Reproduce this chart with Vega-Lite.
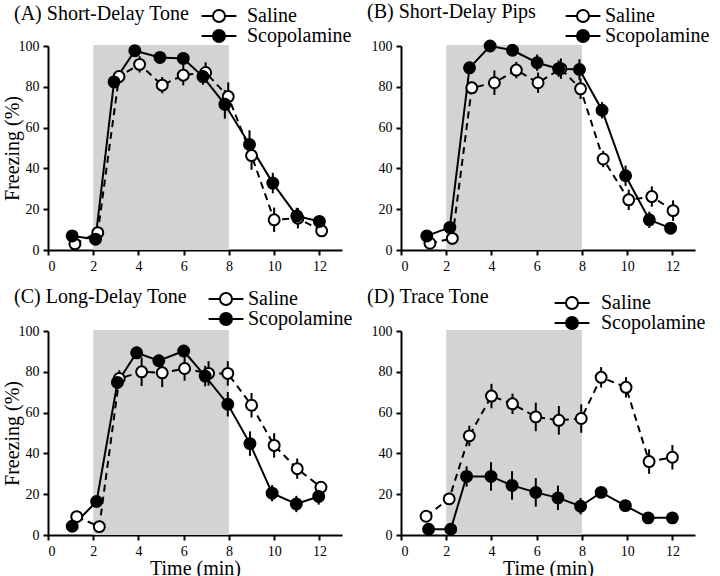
{
  "$schema": "https://vega.github.io/schema/vega-lite/v6.json",
  "padding": {"left": 2, "top": 2, "right": 2, "bottom": 2},
  "background": "white",
  "datasets": {
    "freezing": [
      {"panel":"A","group":"Saline","time":1.19,"freezing":3,"lower":1,"upper":5},
      {"panel":"A","group":"Saline","time":2.2,"freezing":8.5,"lower":5.5,"upper":11.5},
      {"panel":"A","group":"Saline","time":3.14,"freezing":85,"lower":82,"upper":88},
      {"panel":"A","group":"Saline","time":4.05,"freezing":91,"lower":87,"upper":95},
      {"panel":"A","group":"Saline","time":5.05,"freezing":80.8,"lower":76.8,"upper":84.8},
      {"panel":"A","group":"Saline","time":5.98,"freezing":85.7,"lower":80.7,"upper":90.7},
      {"panel":"A","group":"Saline","time":6.97,"freezing":87,"lower":82,"upper":92},
      {"panel":"A","group":"Saline","time":7.97,"freezing":75.2,"lower":68.2,"upper":82.2},
      {"panel":"A","group":"Saline","time":9.0,"freezing":46.3,"lower":39.3,"upper":53.3},
      {"panel":"A","group":"Saline","time":10.0,"freezing":14.8,"lower":8.8,"upper":20.8},
      {"panel":"A","group":"Saline","time":11.05,"freezing":15.6,"lower":10.6,"upper":20.6},
      {"panel":"A","group":"Saline","time":12.1,"freezing":9.4,"lower":6.4,"upper":12.4},
      {"panel":"A","group":"Scopolamine","time":1.07,"freezing":6.9,"lower":5.9,"upper":7.9},
      {"panel":"A","group":"Scopolamine","time":2.1,"freezing":5.3,"lower":3.3,"upper":7.3},
      {"panel":"A","group":"Scopolamine","time":2.92,"freezing":82.4,"lower":79.4,"upper":85.4},
      {"panel":"A","group":"Scopolamine","time":3.84,"freezing":97.7,"lower":95.7,"upper":99.7},
      {"panel":"A","group":"Scopolamine","time":4.95,"freezing":94.4,"lower":92.4,"upper":96.4},
      {"panel":"A","group":"Scopolamine","time":5.98,"freezing":93.9,"lower":90.9,"upper":96.9},
      {"panel":"A","group":"Scopolamine","time":6.85,"freezing":85,"lower":81,"upper":89},
      {"panel":"A","group":"Scopolamine","time":7.82,"freezing":71.4,"lower":64.4,"upper":78.4},
      {"panel":"A","group":"Scopolamine","time":8.91,"freezing":51.7,"lower":44.7,"upper":58.7},
      {"panel":"A","group":"Scopolamine","time":9.94,"freezing":32.8,"lower":27.8,"upper":37.8},
      {"panel":"A","group":"Scopolamine","time":11.0,"freezing":16.7,"lower":12.7,"upper":20.7},
      {"panel":"A","group":"Scopolamine","time":12.0,"freezing":14,"lower":11,"upper":17},

      {"panel":"B","group":"Saline","time":1.28,"freezing":3.3,"lower":1.3,"upper":5.3},
      {"panel":"B","group":"Saline","time":2.27,"freezing":5.7,"lower":2.7,"upper":8.7},
      {"panel":"B","group":"Saline","time":3.13,"freezing":79.5,"lower":76.5,"upper":82.5},
      {"panel":"B","group":"Saline","time":4.13,"freezing":82,"lower":76,"upper":88},
      {"panel":"B","group":"Saline","time":5.1,"freezing":88.2,"lower":84.2,"upper":92.2},
      {"panel":"B","group":"Saline","time":6.06,"freezing":82,"lower":77,"upper":87},
      {"panel":"B","group":"Saline","time":7.07,"freezing":88.9,"lower":83.9,"upper":93.9},
      {"panel":"B","group":"Saline","time":7.94,"freezing":79,"lower":74,"upper":84},
      {"panel":"B","group":"Saline","time":8.94,"freezing":44.6,"lower":40.6,"upper":48.6},
      {"panel":"B","group":"Saline","time":10.07,"freezing":24.6,"lower":19.6,"upper":29.6},
      {"panel":"B","group":"Saline","time":11.09,"freezing":26.2,"lower":21.2,"upper":31.2},
      {"panel":"B","group":"Saline","time":12.03,"freezing":19.3,"lower":14.3,"upper":24.3},
      {"panel":"B","group":"Scopolamine","time":1.14,"freezing":6.9,"lower":4.9,"upper":8.9},
      {"panel":"B","group":"Scopolamine","time":2.16,"freezing":11.1,"lower":9.1,"upper":13.1},
      {"panel":"B","group":"Scopolamine","time":3.03,"freezing":89.3,"lower":86.3,"upper":92.3},
      {"panel":"B","group":"Scopolamine","time":3.94,"freezing":100,"lower":98,"upper":100},
      {"panel":"B","group":"Scopolamine","time":4.93,"freezing":97.9,"lower":95.9,"upper":99.9},
      {"panel":"B","group":"Scopolamine","time":6.02,"freezing":91.8,"lower":87.8,"upper":95.8},
      {"panel":"B","group":"Scopolamine","time":6.97,"freezing":88.9,"lower":84.9,"upper":92.9},
      {"panel":"B","group":"Scopolamine","time":7.89,"freezing":88.5,"lower":83.5,"upper":93.5},
      {"panel":"B","group":"Scopolamine","time":8.89,"freezing":68.5,"lower":64.5,"upper":72.5},
      {"panel":"B","group":"Scopolamine","time":9.93,"freezing":36.4,"lower":31.4,"upper":41.4},
      {"panel":"B","group":"Scopolamine","time":10.98,"freezing":14.8,"lower":10.8,"upper":18.8},
      {"panel":"B","group":"Scopolamine","time":11.92,"freezing":10.7,"lower":7.7,"upper":13.7},

      {"panel":"C","group":"Saline","time":1.27,"freezing":9,"lower":7,"upper":11},
      {"panel":"C","group":"Saline","time":2.27,"freezing":4.1,"lower":2.1,"upper":6.1},
      {"panel":"C","group":"Saline","time":3.15,"freezing":76.7,"lower":72.7,"upper":80.7},
      {"panel":"C","group":"Saline","time":4.14,"freezing":80,"lower":73,"upper":87},
      {"panel":"C","group":"Saline","time":5.05,"freezing":79.5,"lower":72.5,"upper":86.5},
      {"panel":"C","group":"Saline","time":6.04,"freezing":81.6,"lower":75.6,"upper":87.6},
      {"panel":"C","group":"Saline","time":7.1,"freezing":79.2,"lower":73.2,"upper":85.2},
      {"panel":"C","group":"Saline","time":7.95,"freezing":79.2,"lower":73.2,"upper":85.2},
      {"panel":"C","group":"Saline","time":9.0,"freezing":63.6,"lower":57.6,"upper":69.6},
      {"panel":"C","group":"Saline","time":10.0,"freezing":43.9,"lower":37.9,"upper":49.9},
      {"panel":"C","group":"Saline","time":11.02,"freezing":32.5,"lower":27.5,"upper":37.5},
      {"panel":"C","group":"Saline","time":12.07,"freezing":23.4,"lower":20.4,"upper":26.4},
      {"panel":"C","group":"Scopolamine","time":1.07,"freezing":4.3,"lower":3.3,"upper":5.3},
      {"panel":"C","group":"Scopolamine","time":2.15,"freezing":16.4,"lower":14.4,"upper":18.4},
      {"panel":"C","group":"Scopolamine","time":3.07,"freezing":74.8,"lower":71.8,"upper":77.8},
      {"panel":"C","group":"Scopolamine","time":3.92,"freezing":89.3,"lower":86.3,"upper":92.3},
      {"panel":"C","group":"Scopolamine","time":4.9,"freezing":85.4,"lower":82.4,"upper":88.4},
      {"panel":"C","group":"Scopolamine","time":6.0,"freezing":90.2,"lower":87.2,"upper":93.2},
      {"panel":"C","group":"Scopolamine","time":6.95,"freezing":77.9,"lower":72.9,"upper":82.9},
      {"panel":"C","group":"Scopolamine","time":7.95,"freezing":64.1,"lower":58.1,"upper":70.1},
      {"panel":"C","group":"Scopolamine","time":8.93,"freezing":44.8,"lower":38.8,"upper":50.8},
      {"panel":"C","group":"Scopolamine","time":9.91,"freezing":20.5,"lower":16.5,"upper":24.5},
      {"panel":"C","group":"Scopolamine","time":10.98,"freezing":15.2,"lower":11.2,"upper":19.2},
      {"panel":"C","group":"Scopolamine","time":11.97,"freezing":18.9,"lower":14.9,"upper":22.9},

      {"panel":"D","group":"Saline","time":1.11,"freezing":9.2,"lower":7.2,"upper":11.2},
      {"panel":"D","group":"Saline","time":2.13,"freezing":17.7,"lower":14.7,"upper":20.7},
      {"panel":"D","group":"Saline","time":3.02,"freezing":48.6,"lower":43.6,"upper":53.6},
      {"panel":"D","group":"Saline","time":4.0,"freezing":68.1,"lower":62.1,"upper":74.1},
      {"panel":"D","group":"Saline","time":4.93,"freezing":64.3,"lower":59.3,"upper":69.3},
      {"panel":"D","group":"Saline","time":5.96,"freezing":57.9,"lower":50.9,"upper":64.9},
      {"panel":"D","group":"Saline","time":6.98,"freezing":56.2,"lower":49.2,"upper":63.2},
      {"panel":"D","group":"Saline","time":7.97,"freezing":57.1,"lower":50.1,"upper":64.1},
      {"panel":"D","group":"Saline","time":8.85,"freezing":77.3,"lower":72.3,"upper":82.3},
      {"panel":"D","group":"Saline","time":9.95,"freezing":72.4,"lower":67.4,"upper":77.4},
      {"panel":"D","group":"Saline","time":10.97,"freezing":36,"lower":30,"upper":42},
      {"panel":"D","group":"Saline","time":12.0,"freezing":38.1,"lower":32.1,"upper":44.1},
      {"panel":"D","group":"Scopolamine","time":1.22,"freezing":2.8,"lower":1.8,"upper":3.8},
      {"panel":"D","group":"Scopolamine","time":2.2,"freezing":2.8,"lower":1.8,"upper":3.8},
      {"panel":"D","group":"Scopolamine","time":2.9,"freezing":28.7,"lower":23.7,"upper":33.7},
      {"panel":"D","group":"Scopolamine","time":3.98,"freezing":28.7,"lower":21.7,"upper":35.7},
      {"panel":"D","group":"Scopolamine","time":4.91,"freezing":24.3,"lower":17.3,"upper":31.3},
      {"panel":"D","group":"Scopolamine","time":5.96,"freezing":20.9,"lower":13.9,"upper":27.9},
      {"panel":"D","group":"Scopolamine","time":6.94,"freezing":18.2,"lower":12.2,"upper":24.2},
      {"panel":"D","group":"Scopolamine","time":7.94,"freezing":14.1,"lower":10.1,"upper":18.1},
      {"panel":"D","group":"Scopolamine","time":8.85,"freezing":20.9,"lower":18.9,"upper":22.9},
      {"panel":"D","group":"Scopolamine","time":9.92,"freezing":14.4,"lower":12.4,"upper":16.4},
      {"panel":"D","group":"Scopolamine","time":10.93,"freezing":8.4,"lower":7.4,"upper":9.4},
      {"panel":"D","group":"Scopolamine","time":12.0,"freezing":8.4,"lower":7.4,"upper":9.4}
    ],
    "cs": [{"start": 2, "end": 8, "bottom": 0, "top": 100.5}]
  },
  "columns": 2,
  "bounds": "flush",
  "spacing": {"row": 81, "column": 59},
  "resolve": {"scale": {"fill": "independent"}, "legend": {"fill": "independent"}},
  "concat": [
    {
      "width": 294, "height": 204,
      "title": {"text": "(A) Short-Delay Tone", "offset": -18, "font": "Liberation Serif"},
      "layer": [
        {"data": {"name": "cs"}, "mark": {"type": "rect", "color": "#d3d3d3"},
         "encoding": {
           "x": {"field": "start", "type": "quantitative", "title": null, "scale": {"domain": [0, 13], "nice": false}, "axis": {"values": [0,2,4,6,8,10,12], "title": null, "labelFont": "Liberation Serif"}},
           "x2": {"field": "end"},
           "y": {"field": "bottom", "type": "quantitative", "title": "Freezing (%)", "scale": {"domain": [0, 100], "nice": false}, "axis": {"values": [0,20,40,60,80,100], "title": "Freezing (%)", "labelFont": "Liberation Serif", "titleFont": "Liberation Serif", "titlePadding": -4}},
           "y2": {"field": "top"}}},
        {"data": {"name": "freezing"}, "transform": [{"filter": "datum.panel === 'A'"}],
         "mark": {"type": "rule", "color": "black", "strokeWidth": 2},
         "encoding": {"x": {"field": "time", "type": "quantitative", "title": null}, "y": {"field": "lower", "type": "quantitative", "title": "Freezing (%)"}, "y2": {"field": "upper"}}},
        {"data": {"name": "freezing"}, "transform": [{"filter": "datum.panel === 'A' && datum.group === 'Saline'"}],
         "mark": {"type": "line", "color": "black", "strokeWidth": 2, "strokeDash": [7, 5]},
         "encoding": {"x": {"field": "time", "type": "quantitative", "title": null}, "y": {"field": "freezing", "type": "quantitative", "title": "Freezing (%)"}}},
        {"data": {"name": "freezing"}, "transform": [{"filter": "datum.panel === 'A' && datum.group === 'Scopolamine'"}],
         "mark": {"type": "line", "color": "black", "strokeWidth": 2},
         "encoding": {"x": {"field": "time", "type": "quantitative", "title": null}, "y": {"field": "freezing", "type": "quantitative", "title": "Freezing (%)"}}},
        {"data": {"name": "freezing"}, "transform": [{"filter": "datum.panel === 'A'"}],
         "mark": {"type": "circle", "size": 120, "stroke": "black", "strokeWidth": 2, "opacity": 1},
         "encoding": {"x": {"field": "time", "type": "quantitative", "title": null}, "y": {"field": "freezing", "type": "quantitative", "title": "Freezing (%)"},
           "fill": {"field": "group", "type": "nominal", "title": null, "scale": {"domain": ["Saline", "Scopolamine"], "range": ["white", "black"]},
             "legend": {"orient": "none", "legendX": 161, "legendY": -40, "labelOffset": 18, "title": null, "symbolType": "M-2.9,0L-1,0M1,0L2.9,0M-1,0A1,1,0,1,1,1,0A1,1,0,1,1,-1,0Z", "symbolSize": 144, "symbolStrokeColor": "black", "symbolStrokeWidth": 2, "labelFont": "Liberation Serif", "labelFontSize": 20, "labelColor": "black", "rowPadding": 0, "padding": 0}}}}
      ]
    },
    {
      "width": 294, "height": 204,
      "title": {"text": "(B) Short-Delay Pips", "offset": -16, "font": "Liberation Serif"},
      "layer": [
        {"data": {"name": "cs"}, "mark": {"type": "rect", "color": "#d3d3d3"},
         "encoding": {
           "x": {"field": "start", "type": "quantitative", "title": null, "scale": {"domain": [0, 13], "nice": false}, "axis": {"values": [0,2,4,6,8,10,12], "title": null, "labelFont": "Liberation Serif"}},
           "x2": {"field": "end"},
           "y": {"field": "bottom", "type": "quantitative", "title": null, "scale": {"domain": [0, 100], "nice": false}, "axis": {"values": [0,20,40,60,80,100], "title": null, "labelFont": "Liberation Serif"}},
           "y2": {"field": "top"}}},
        {"data": {"name": "freezing"}, "transform": [{"filter": "datum.panel === 'B'"}],
         "mark": {"type": "rule", "color": "black", "strokeWidth": 2},
         "encoding": {"x": {"field": "time", "type": "quantitative", "title": null}, "y": {"field": "lower", "type": "quantitative", "title": null}, "y2": {"field": "upper"}}},
        {"data": {"name": "freezing"}, "transform": [{"filter": "datum.panel === 'B' && datum.group === 'Saline'"}],
         "mark": {"type": "line", "color": "black", "strokeWidth": 2, "strokeDash": [7, 5]},
         "encoding": {"x": {"field": "time", "type": "quantitative", "title": null}, "y": {"field": "freezing", "type": "quantitative", "title": null}}},
        {"data": {"name": "freezing"}, "transform": [{"filter": "datum.panel === 'B' && datum.group === 'Scopolamine'"}],
         "mark": {"type": "line", "color": "black", "strokeWidth": 2},
         "encoding": {"x": {"field": "time", "type": "quantitative", "title": null}, "y": {"field": "freezing", "type": "quantitative", "title": null}}},
        {"data": {"name": "freezing"}, "transform": [{"filter": "datum.panel === 'B'"}],
         "mark": {"type": "circle", "size": 120, "stroke": "black", "strokeWidth": 2, "opacity": 1},
         "encoding": {"x": {"field": "time", "type": "quantitative", "title": null}, "y": {"field": "freezing", "type": "quantitative", "title": null},
           "fill": {"field": "group", "type": "nominal", "title": null, "scale": {"domain": ["Saline", "Scopolamine"], "range": ["white", "black"]},
             "legend": {"orient": "none", "legendX": 172, "legendY": -40, "labelOffset": 12, "title": null, "symbolType": "M-2.9,0L-1,0M1,0L2.9,0M-1,0A1,1,0,1,1,1,0A1,1,0,1,1,-1,0Z", "symbolSize": 144, "symbolStrokeColor": "black", "symbolStrokeWidth": 2, "labelFont": "Liberation Serif", "labelFontSize": 20, "labelColor": "black", "rowPadding": 0, "padding": 0}}}}
      ]
    },
    {
      "width": 294, "height": 204,
      "title": {"text": "(C) Long-Delay Tone", "offset": -18, "font": "Liberation Serif"},
      "layer": [
        {"data": {"name": "cs"}, "mark": {"type": "rect", "color": "#d3d3d3"},
         "encoding": {
           "x": {"field": "start", "type": "quantitative", "title": "Time (min)", "scale": {"domain": [0, 13], "nice": false}, "axis": {"values": [0,2,4,6,8,10,12], "title": "Time (min)", "labelFont": "Liberation Serif", "titleFont": "Liberation Serif", "titlePadding": 0}},
           "x2": {"field": "end"},
           "y": {"field": "bottom", "type": "quantitative", "title": "Freezing (%)", "scale": {"domain": [0, 100], "nice": false}, "axis": {"values": [0,20,40,60,80,100], "title": "Freezing (%)", "labelFont": "Liberation Serif", "titleFont": "Liberation Serif", "titlePadding": -4}},
           "y2": {"field": "top"}}},
        {"data": {"name": "freezing"}, "transform": [{"filter": "datum.panel === 'C'"}],
         "mark": {"type": "rule", "color": "black", "strokeWidth": 2},
         "encoding": {"x": {"field": "time", "type": "quantitative", "title": "Time (min)"}, "y": {"field": "lower", "type": "quantitative", "title": "Freezing (%)"}, "y2": {"field": "upper"}}},
        {"data": {"name": "freezing"}, "transform": [{"filter": "datum.panel === 'C' && datum.group === 'Saline'"}],
         "mark": {"type": "line", "color": "black", "strokeWidth": 2, "strokeDash": [7, 5]},
         "encoding": {"x": {"field": "time", "type": "quantitative", "title": "Time (min)"}, "y": {"field": "freezing", "type": "quantitative", "title": "Freezing (%)"}}},
        {"data": {"name": "freezing"}, "transform": [{"filter": "datum.panel === 'C' && datum.group === 'Scopolamine'"}],
         "mark": {"type": "line", "color": "black", "strokeWidth": 2},
         "encoding": {"x": {"field": "time", "type": "quantitative", "title": "Time (min)"}, "y": {"field": "freezing", "type": "quantitative", "title": "Freezing (%)"}}},
        {"data": {"name": "freezing"}, "transform": [{"filter": "datum.panel === 'C'"}],
         "mark": {"type": "circle", "size": 120, "stroke": "black", "strokeWidth": 2, "opacity": 1},
         "encoding": {"x": {"field": "time", "type": "quantitative", "title": "Time (min)"}, "y": {"field": "freezing", "type": "quantitative", "title": "Freezing (%)"},
           "fill": {"field": "group", "type": "nominal", "title": null, "scale": {"domain": ["Saline", "Scopolamine"], "range": ["white", "black"]},
             "legend": {"orient": "none", "legendX": 168, "legendY": -42, "labelOffset": 12, "title": null, "symbolType": "M-2.9,0L-1,0M1,0L2.9,0M-1,0A1,1,0,1,1,1,0A1,1,0,1,1,-1,0Z", "symbolSize": 144, "symbolStrokeColor": "black", "symbolStrokeWidth": 2, "labelFont": "Liberation Serif", "labelFontSize": 20, "labelColor": "black", "rowPadding": 0, "padding": 0}}}}
      ]
    },
    {
      "width": 294, "height": 204,
      "title": {"text": "(D) Trace Tone", "offset": -14, "font": "Liberation Serif"},
      "layer": [
        {"data": {"name": "cs"}, "mark": {"type": "rect", "color": "#d3d3d3"},
         "encoding": {
           "x": {"field": "start", "type": "quantitative", "title": "Time (min)", "scale": {"domain": [0, 13], "nice": false}, "axis": {"values": [0,2,4,6,8,10,12], "title": "Time (min)", "labelFont": "Liberation Serif", "titleFont": "Liberation Serif", "titlePadding": 0}},
           "x2": {"field": "end"},
           "y": {"field": "bottom", "type": "quantitative", "title": null, "scale": {"domain": [0, 100], "nice": false}, "axis": {"values": [0,20,40,60,80,100], "title": null, "labelFont": "Liberation Serif"}},
           "y2": {"field": "top"}}},
        {"data": {"name": "freezing"}, "transform": [{"filter": "datum.panel === 'D'"}],
         "mark": {"type": "rule", "color": "black", "strokeWidth": 2},
         "encoding": {"x": {"field": "time", "type": "quantitative", "title": "Time (min)"}, "y": {"field": "lower", "type": "quantitative", "title": null}, "y2": {"field": "upper"}}},
        {"data": {"name": "freezing"}, "transform": [{"filter": "datum.panel === 'D' && datum.group === 'Saline'"}],
         "mark": {"type": "line", "color": "black", "strokeWidth": 2, "strokeDash": [7, 5]},
         "encoding": {"x": {"field": "time", "type": "quantitative", "title": "Time (min)"}, "y": {"field": "freezing", "type": "quantitative", "title": null}}},
        {"data": {"name": "freezing"}, "transform": [{"filter": "datum.panel === 'D' && datum.group === 'Scopolamine'"}],
         "mark": {"type": "line", "color": "black", "strokeWidth": 2},
         "encoding": {"x": {"field": "time", "type": "quantitative", "title": "Time (min)"}, "y": {"field": "freezing", "type": "quantitative", "title": null}}},
        {"data": {"name": "freezing"}, "transform": [{"filter": "datum.panel === 'D'"}],
         "mark": {"type": "circle", "size": 120, "stroke": "black", "strokeWidth": 2, "opacity": 1},
         "encoding": {"x": {"field": "time", "type": "quantitative", "title": "Time (min)"}, "y": {"field": "freezing", "type": "quantitative", "title": null},
           "fill": {"field": "group", "type": "nominal", "title": null, "scale": {"domain": ["Saline", "Scopolamine"], "range": ["white", "black"]},
             "legend": {"orient": "none", "legendX": 161, "legendY": -38, "labelOffset": 19, "title": null, "symbolType": "M-2.9,0L-1,0M1,0L2.9,0M-1,0A1,1,0,1,1,1,0A1,1,0,1,1,-1,0Z", "symbolSize": 144, "symbolStrokeColor": "black", "symbolStrokeWidth": 2, "labelFont": "Liberation Serif", "labelFontSize": 20, "labelColor": "black", "rowPadding": 0, "padding": 0}}}}
      ]
    }
  ],
  "config": {
    "view": {"stroke": null},
    "axis": {
      "grid": false, "domainColor": "black", "domainWidth": 2, "tickColor": "black", "tickWidth": 2, "tickSize": 5,
      "labelFont": "Liberation Serif", "labelFontSize": 14, "labelColor": "black", "labelPadding": 4,
      "titleFont": "Liberation Serif", "titleFontSize": 20, "titleFontWeight": "normal", "titleColor": "black"
    },
    "legend": {"labelFont": "Liberation Serif"},
    "title": {"font": "Liberation Serif", "fontSize": 20, "fontWeight": "normal", "color": "black", "anchor": "start", "frame": "group", "dx": -34}
  }
}
